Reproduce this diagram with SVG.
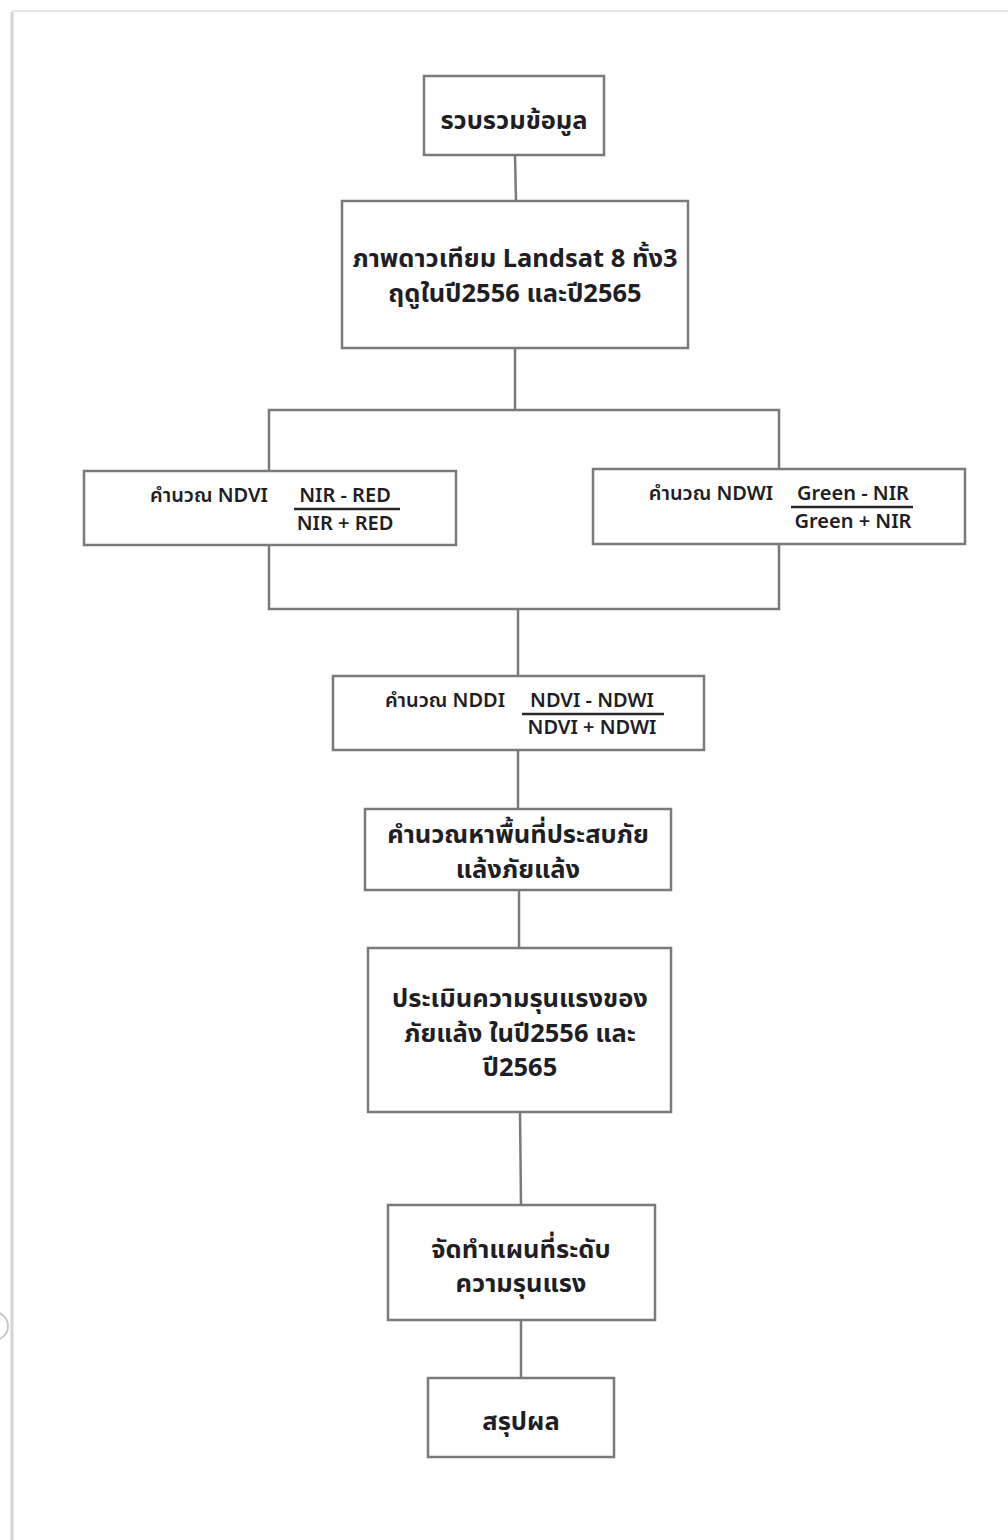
<svg xmlns="http://www.w3.org/2000/svg" width="1008" height="1540" viewBox="0 0 1008 1540">
<style>
.box{fill:#fff;stroke:#7a7a7a;stroke-width:2.5}
.conn{fill:none;stroke:#7a7a7a;stroke-width:2.5}
.t{font-family:"Noto Sans","Noto Sans Thai","Liberation Sans",sans-serif;fill:#1e1e24;text-anchor:middle}
.big{font-size:25.5px;font-weight:bold}
.sm{font-size:20px;font-weight:600}
.frac{stroke:#2a2a2a;stroke-width:2.5}
</style>
<rect width="1008" height="1540" fill="#fff"/>
<g id="page">
<line x1="12" y1="12" x2="12" y2="1540" stroke="#d4d4d4" stroke-width="3"/>
<line x1="12" y1="11" x2="1008" y2="11" stroke="#e4e4e4" stroke-width="2"/>
<circle cx="-6" cy="1326" r="14" fill="none" stroke="#c8c8c8" stroke-width="2"/>
</g>
<g id="connectors">
<line class="conn" x1="515" y1="155" x2="516" y2="201"/>
<polyline class="conn" points="515,348 515,410"/>
<polyline class="conn" points="269,471 269,410 779,410 779,469"/>
<polyline class="conn" points="269,545 269,609 779,609 779,544"/>
<line class="conn" x1="518" y1="609" x2="518" y2="676"/>
<line class="conn" x1="518" y1="750" x2="518" y2="809"/>
<line class="conn" x1="519" y1="890" x2="519" y2="948"/>
<line class="conn" x1="520" y1="1112" x2="521" y2="1205"/>
<line class="conn" x1="521" y1="1320" x2="521" y2="1378"/>
</g>
<g id="n1">
<rect class="box" x="424" y="76" width="180" height="79"/>
<text class="t big" x="514" y="129">รวบรวมข้อมูล</text>
</g>
<g id="n2">
<rect class="box" x="342" y="201" width="346" height="147"/>
<text class="t big" x="515" y="267">ภาพดาวเทียม Landsat 8 ทั้ง3</text>
<text class="t big" x="515" y="302">ฤดูในปี2556 และปี2565</text>
</g>
<g id="n3">
<rect class="box" x="84" y="471" width="372" height="74"/>
<text class="t sm" x="209" y="502">คำนวณ NDVI</text>
<text class="t sm" x="345" y="502">NIR - RED</text>
<line class="frac" x1="294" y1="509" x2="400" y2="509"/>
<text class="t sm" x="345" y="530">NIR + RED</text>
</g>
<g id="n4">
<rect class="box" x="593" y="469" width="372" height="75"/>
<text class="t sm" x="711" y="500">คำนวณ NDWI</text>
<text class="t sm" x="853" y="500">Green - NIR</text>
<line class="frac" x1="791" y1="507" x2="913" y2="507"/>
<text class="t sm" x="853" y="528">Green + NIR</text>
</g>
<g id="n5">
<rect class="box" x="333" y="676" width="371" height="74"/>
<text class="t sm" x="445" y="707">คำนวณ NDDI</text>
<text class="t sm" x="592" y="707">NDVI - NDWI</text>
<line class="frac" x1="522" y1="714" x2="664" y2="714"/>
<text class="t sm" x="592" y="734">NDVI + NDWI</text>
</g>
<g id="n6">
<rect class="box" x="365" y="809" width="306" height="81"/>
<text class="t big" x="518" y="843">คำนวณหาพื้นที่ประสบภัย</text>
<text class="t big" x="518" y="878">แล้งภัยแล้ง</text>
</g>
<g id="n7">
<rect class="box" x="368" y="948" width="303" height="164"/>
<text class="t big" x="520" y="1007">ประเมินความรุนแรงของ</text>
<text class="t big" x="520" y="1042">ภัยแล้ง ในปี2556 และ</text>
<text class="t big" x="520" y="1076">ปี2565</text>
</g>
<g id="n8">
<rect class="box" x="388" y="1205" width="267" height="115"/>
<text class="t big" x="521" y="1258">จัดทำแผนที่ระดับ</text>
<text class="t big" x="521" y="1292">ความรุนแรง</text>
</g>
<g id="n9">
<rect class="box" x="428" y="1378" width="186" height="79"/>
<text class="t big" x="521" y="1430">สรุปผล</text>
</g>
</svg>
